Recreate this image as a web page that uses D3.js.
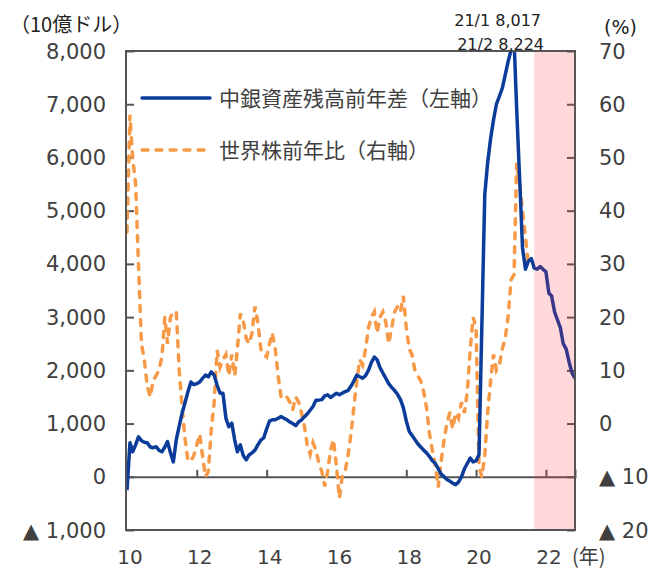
<!DOCTYPE html>
<html>
<head>
<meta charset="utf-8">
<script src="https://cdn.jsdelivr.net/npm/d3@7/dist/d3.min.js"></script>
<style>
  body { margin: 0; background: #fff; }
  text { font-family: "DejaVu Sans", sans-serif; }
  .jp { font-family: "Noto Sans CJK JP", sans-serif; }
</style>
</head>
<body>
<div class="visual"></div>
<script>
//data (monthly, from 2010-01)
const startMonth = "2010-01";
// central bank assets, YoY change (bn USD), left axis
const bankVals = [
  -250, 640, 470, 600, 750, 680, 650, 640, 560, 545,
  565, 500, 470, 560, 660, 450, 280, 700, 950, 1200,
  1400, 1600, 1780, 1730, 1750, 1780, 1850, 1910, 1880, 1970,
  1910, 1720, 1570, 1570, 1100, 940, 1010, 690, 470, 600,
  400, 320, 410, 450, 500, 600, 690, 730, 900, 1050,
  1070, 1070, 1100, 1130, 1100, 1070, 1030, 1000, 960, 1030,
  1070, 1130, 1180, 1250, 1320, 1440, 1440, 1450, 1520, 1540,
  1490, 1530, 1570, 1540, 1570, 1600, 1620, 1700, 1800, 1910,
  1880, 1850, 1900, 2000, 2150, 2250, 2200, 2050, 1950, 1850,
  1750, 1680, 1620, 1550, 1450, 1300, 1050, 850, 780, 700,
  620, 560, 500, 450, 380, 300, 250, 150, 50, 0,
  -50, -80, -120, -150, -100, 0, 150, 250, 350, 280,
  300, 420, 2800, 5300, 5900, 6350, 6700, 7000, 7150, 7300,
  7550, 7800, 8017, 8224, 6900, 5600, 4300, 3900, 4050, 4100,
  3920, 3900, 3950, 3900, 3850, 3450, 3400, 3100, 2950, 2800,
  2500, 2400, 2150, 1950, 1850
];
// world stocks, YoY (%), right axis
const stockVals = [
  36, 58, 50, 45, 30, 15, 12, 7, 5, 8,
  9, 10, 12.5, 20, 15, 20, 21, 21, 10, 3,
  -3, -7, -7, -6, -4, -2, -6, -10, -9, -1,
  4, 13.8, 10.6, 12, 13, 9, 13, 9, 14, 20.7,
  19.4, 16, 15, 17, 22, 19, 14, 13, 12.5, 15,
  17, 14, 9, 5, 5.4, 5, 4, 2.6, 5, 4,
  2, -0.6, -4, -5.8, -3.6, -5, -7.4, -9, -11.8, -9,
  -5, -3, -8, -14, -10, -9, -6, -2, 3, 8,
  12, 11, 14, 18, 20, 21, 17, 20, 21, 19,
  15, 18, 21, 22, 21, 24, 18, 14, 13, 10,
  9, 8, 6, 3, -2, -5, -8, -12, -7, -3,
  0, 2, -1, 2, 1, 4, 2, 6, 14, 20,
  18, -8, -10, -6, 2, 8, 13, 10, 11, 14,
  16, 20, 27, 28, 49, 45, 40, 35, 30
];
const leftTicks = [-1000, 0, 1000, 2000, 3000, 4000, 5000, 6000, 7000, 8000];
const rightTicks = [-20, -10, 0, 10, 20, 30, 40, 50, 60, 70];
const yearTicks = ["2010", "2012", "2014", "2016", "2018", "2020", "2022"];
const shadeStart = "2021-09";
const peakNotes = [["2021-01", "21/1 8,017"], ["2021-02", "21/2 8,224"]];
const legendItems = [["中銀資産残高前年差（左軸）", "bank"], ["世界株前年比（右軸）", "stock"]];

//set constants
const width = 665, height = 572;
const plot = {left: 126, right: 575, top: 51, bottom: 530};
const blue = "#0b3c9a", orange = "#f79a48", axisCol = "#555", textCol = "#404040";

const parseMonth = d3.timeParse("%Y-%m");
const parseYear = d3.timeParse("%Y");
const t0 = parseMonth(startMonth);
const bankData = bankVals.map((v, i) => ({date: d3.timeMonth.offset(t0, i), v: v}));
const stockData = stockVals.map((v, i) => ({date: d3.timeMonth.offset(t0, i), v: v}));

const svg = d3.select(".visual")
  .append("svg")
  .attr("width", width)
  .attr("height", height);

const x = d3.scaleTime()
  .domain([t0, parseMonth("2022-11")])
  .range([plot.left + 1, plot.right]);
const yL = d3.scaleLinear().domain([-1000, 8000]).range([plot.bottom, plot.top]);
const yR = d3.scaleLinear().domain([-20, 70]).range([plot.bottom, plot.top]);

const fmtNum = v => v < 0 ? "▲ " + d3.format(",")(-v) : d3.format(",")(v);

svg.append("clipPath").attr("id", "clip")
  .append("rect")
  .attr("x", plot.left).attr("y", plot.top)
  .attr("width", plot.right - plot.left).attr("height", plot.bottom - plot.top);

// left axis
const leftAxis = svg.append("g")
  .attr("transform", "translate(" + plot.left + ",0)")
  .call(d3.axisRight(yL).tickValues(leftTicks).tickSize(8).tickFormat(""));
leftAxis.select(".domain").remove();
leftAxis.selectAll("line").attr("stroke", axisCol).attr("stroke-width", 2);
svg.append("g").selectAll("text")
  .data(leftTicks).enter().append("text")
  .attr("x", plot.left - 20)
  .attr("y", d => yL(d))
  .attr("dy", "0.36em")
  .attr("text-anchor", "end")
  .attr("font-size", 21)
  .attr("fill", textCol)
  .text(fmtNum);

// right axis
const rightAxis = svg.append("g")
  .attr("transform", "translate(" + plot.right + ",0)")
  .call(d3.axisLeft(yR).tickValues(rightTicks).tickSize(8).tickFormat(""));
rightAxis.select(".domain").remove();
rightAxis.selectAll("line").attr("stroke", axisCol).attr("stroke-width", 2);
svg.append("g").selectAll("text")
  .data(rightTicks).enter().append("text")
  .attr("x", plot.right + 24)
  .attr("y", d => yR(d))
  .attr("dy", "0.36em")
  .attr("font-size", 21)
  .attr("fill", textCol)
  .text(fmtNum);

// zero line with year ticks pointing up
const xAxis = svg.append("g")
  .attr("transform", "translate(0," + yL(0) + ")")
  .call(d3.axisTop(x).tickValues(yearTicks.map(parseYear)).tickSize(7).tickFormat(""));
xAxis.select(".domain").attr("stroke", axisCol).attr("stroke-width", 2);
xAxis.selectAll("line").attr("stroke", axisCol).attr("stroke-width", 2);

// year labels under the box
svg.append("g").selectAll("text")
  .data(yearTicks).enter().append("text")
  .attr("x", d => x(parseYear(d)) + 3)
  .attr("y", 557)
  .attr("dy", "0.36em")
  .attr("text-anchor", "middle")
  .attr("font-size", 20)
  .attr("fill", textCol)
  .text(d => d.slice(2));
svg.append("text")
  .attr("class", "jp")
  .attr("x", x(parseYear("2022")) + 26)
  .attr("y", 557)
  .attr("dy", "0.36em")
  .attr("font-size", 20)
  .attr("fill", textCol)
  .text("(年)");

// lines
const lineL = d3.line().x(d => x(d.date)).y(d => yL(d.v));
const lineR = d3.line().x(d => x(d.date)).y(d => yR(d.v));
const lines = svg.append("g").attr("clip-path", "url(#clip)");
lines.append("path")
  .datum(stockData)
  .attr("d", lineR)
  .attr("fill", "none")
  .attr("stroke", orange)
  .attr("stroke-width", 3.5)
  .attr("stroke-dasharray", "6,8")
  .attr("stroke-linecap", "round");
lines.append("path")
  .datum(bankData)
  .attr("d", lineL)
  .attr("fill", "none")
  .attr("stroke", blue)
  .attr("stroke-width", 3.5)
  .attr("stroke-linejoin", "round");

// shaded period on top
svg.append("rect")
  .attr("x", x(parseMonth(shadeStart)))
  .attr("y", plot.top)
  .attr("width", plot.right - x(parseMonth(shadeStart)))
  .attr("height", plot.bottom - plot.top)
  .attr("fill", "rgb(255,40,60)")
  .attr("fill-opacity", 0.18);

// box
svg.append("rect")
  .attr("x", plot.left).attr("y", plot.top)
  .attr("width", plot.right - plot.left).attr("height", plot.bottom - plot.top)
  .attr("fill", "none")
  .attr("stroke", axisCol)
  .attr("stroke-width", 2);

// legend
const legend = svg.selectAll(".legend")
  .data(legendItems).enter().append("g")
  .attr("class", "legend")
  .attr("transform", (d, i) => "translate(142," + (98 + i * 52) + ")");
legend.append("line")
  .attr("x1", 0).attr("x2", 68)
  .attr("stroke", d => d[1] == "bank" ? blue : orange)
  .attr("stroke-width", 3.5)
  .attr("stroke-dasharray", d => d[1] == "bank" ? null : "6,8")
  .attr("stroke-linecap", "round");
legend.append("text")
  .attr("class", "jp")
  .attr("x", 77)
  .attr("dy", "0.36em")
  .attr("font-size", 21)
  .attr("fill", textCol)
  .text(d => d[0]);

// unit labels
svg.append("text").attr("class", "jp")
  .attr("x", 10).attr("y", 25).attr("dy", "0.36em")
  .attr("font-size", 20).attr("fill", "#222")
  .text("（10億ドル）");
svg.append("text")
  .attr("x", 604).attr("y", 27).attr("dy", "0.36em")
  .attr("font-size", 19).attr("fill", "#222")
  .text("(%)");

// peak notes
svg.append("g").selectAll("text")
  .data(peakNotes).enter().append("text")
  .attr("x", d => x(parseMonth(d[0])) + 30)
  .attr("y", (d, i) => 20 + i * 24)
  .attr("dy", "0.36em")
  .attr("text-anchor", "end")
  .attr("font-size", 16)
  .attr("fill", "#222")
  .text(d => d[1]);
</script>
</body>
</html>
